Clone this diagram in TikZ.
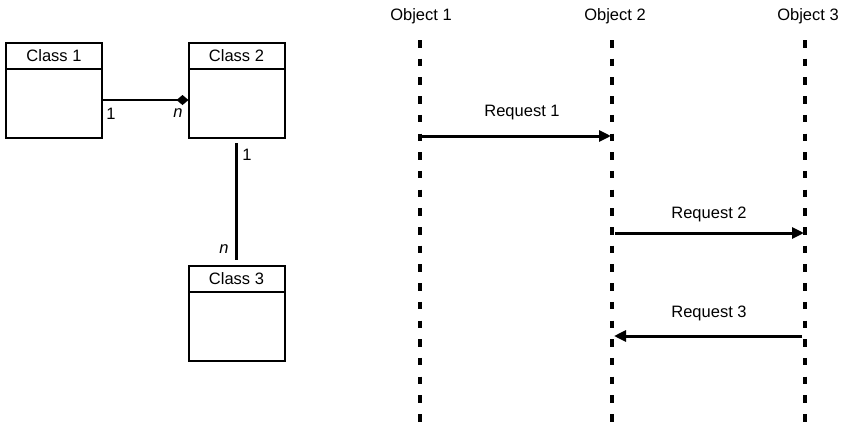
\documentclass[tikz,border=0pt]{standalone}
\usepackage{fontspec}
\setmainfont{Liberation Sans}
\usetikzlibrary{arrows.meta}
\begin{document}
\begin{tikzpicture}[x=1pt,y=-1pt,
  every node/.style={font=\fontsize{16.5}{19}\selectfont},
  hdr/.style={draw,line width=2pt,minimum width=96pt,minimum height=26pt,inner sep=0pt,outer sep=0pt,anchor=north},
  body/.style={draw,line width=2pt,minimum width=96pt,minimum height=69pt,inner sep=0pt,outer sep=0pt,anchor=north},
  assoc/.style={line width=2.8pt},
  life/.style={line width=4.2pt,dash pattern=on 7.5pt off 11.2pt},
  msg/.style={line width=3pt,-{Triangle[length=12pt,width=11pt]}},
  lbl/.style={inner sep=0pt}]
\useasboundingbox (0,0) rectangle (843,426);
% class boxes
\node[hdr] (c1h) at (54,43) {Class 1};
\node[body] (c1b) at (c1h.south) {};
\node[hdr] (c2h) at (236.5,43) {Class 2};
\node[body] (c2b) at (c2h.south) {};
\node[hdr] (c3h) at (236.5,266) {Class 3};
\node[body] (c3b) at (c3h.south) {};
% associations
\draw[assoc,-{Diamond[length=12pt,width=10pt]}] ([yshift=3.5pt]c1b.east) -- ([yshift=3.5pt]c2b.west);
\node[lbl] (l1a) at (111,114) {1};
\node[lbl] (lna) at (178,113) {\itshape n};
\draw[assoc,shorten <=5pt,shorten >=6pt] (c2b.south) -- (c3h.north);
\node[lbl] (l1b) at (247,155) {1};
\node[lbl] (lnb) at (224,249) {\itshape n};
% objects
\node[lbl] (o1) at (421,16) {Object 1};
\node[lbl] (o2) at (615,16) {Object 2};
\node[lbl] (o3) at (808,16) {Object 3};
\coordinate (o1t) at (420,40); \coordinate (o1b) at (420,426);
\coordinate (o2t) at (612,40); \coordinate (o2b) at (612,426);
\coordinate (o3t) at (805,40); \coordinate (o3b) at (805,426);
\draw[life] (o1t) -- (o1b);
\draw[life] (o2t) -- (o2b);
\draw[life] (o3t) -- (o3b);
% messages
\coordinate (r1s) at (422,136); \coordinate (r1e) at (611,136);
\coordinate (r2s) at (615,233); \coordinate (r2e) at (804,233);
\coordinate (r3s) at (802,336); \coordinate (r3e) at (614,336);
\draw[msg] (r1s) -- (r1e);
\draw[msg] (r2s) -- (r2e);
\draw[msg] (r3s) -- (r3e);
\node[lbl] (m1) at (522,113) {Request 1};
\node[lbl] (m2) at (709,214) {Request 2};
\node[lbl] (m3) at (709,313) {Request 3};
\end{tikzpicture}
\end{document}
